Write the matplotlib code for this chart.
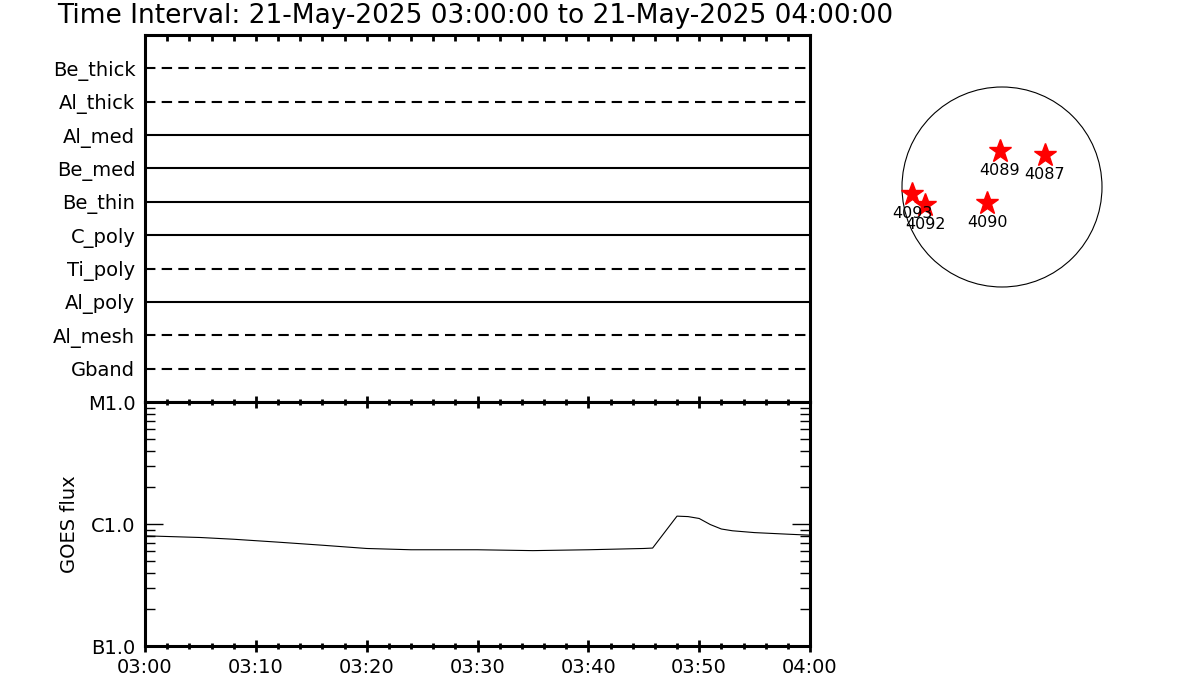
import matplotlib
matplotlib.use("Agg")
import matplotlib.pyplot as plt
from matplotlib.ticker import FixedLocator, LogLocator, NullFormatter
from matplotlib.patches import Circle

# channel rows in the top panel (top to bottom)
channels = ["Be_thick", "Al_thick", "Al_med", "Be_med", "Be_thin",
            "C_poly", "Ti_poly", "Al_poly", "Al_mesh", "Gband"]
dashed = ["Be_thick", "Al_thick", "Ti_poly", "Al_mesh", "Gband"]

# GOES flux, minutes after 03:00
goes_min = [0, 5, 8, 12, 16, 20, 24, 30, 35, 40, 45, 45.8, 48, 49, 50,
            51, 52, 53, 55, 58, 60]
goes_flux = [8.0e-7, 7.75e-7, 7.5e-7, 7.1e-7, 6.7e-7, 6.3e-7, 6.15e-7,
             6.15e-7, 6.05e-7, 6.15e-7, 6.3e-7, 6.35e-7, 1.16e-6, 1.15e-6,
             1.11e-6, 9.9e-7, 9.1e-7, 8.8e-7, 8.5e-7, 8.25e-7, 8.1e-7]
time_labels = ["03:00", "03:10", "03:20", "03:30", "03:40", "03:50", "04:00"]

# active regions (solar x, y in arcsec)
ar_num = ["4089", "4087", "4093", "4092", "4090"]
ar_x = [-19, 413, -864, -739, -144]
ar_y = [346, 307, -67, -173, -154]

plt.rcParams["font.family"] = "DejaVu Sans"
fig = plt.figure(figsize=(12, 7), dpi=100)
W, H = 1200, 700

def box(x0, y0, x1, y1):
    return [x0 / W, 1 - y1 / H, (x1 - x0) / W, (y1 - y0) / H]

fs = 14
ax1 = fig.add_axes(box(145, 35, 810, 402))
ax2 = fig.add_axes(box(145, 402, 810, 646))

n = len(channels)
for i, name in enumerate(channels):
    yv = n - i
    ls = (0, (5, 3)) if name in dashed else "-"
    ax1.plot([0, 60], [yv, yv], color="black", lw=1.5, linestyle=ls)
ax1.set_xlim(0, 60)
ax1.set_ylim(0, n + 1)
ax1.set_yticks(range(n, 0, -1))
ax1.set_yticklabels(channels, fontsize=fs)
ax1.tick_params(axis="y", length=0, pad=7)
ax1.xaxis.set_ticks_position("top")
ax1.set_xticks(range(0, 61, 10))
ax1.set_xticks(range(0, 61, 2), minor=True)
ax1.tick_params(axis="x", which="both", direction="in", labeltop=False,
                length=4, width=2)

ax2.plot(goes_min, goes_flux, color="black", lw=0.8)
ax2.set_yscale("log")
ax2.set_ylim(1e-7, 1e-5)
ax2.set_xlim(0, 60)
ax2.set_yticks([1e-7, 1e-6, 1e-5])
ax2.set_yticklabels(["B1.0", "C1.0", "M1.0"], fontsize=fs)
ax2.yaxis.set_minor_locator(LogLocator(base=10, subs=range(2, 10)))
ax2.yaxis.set_minor_formatter(NullFormatter())
ax2.tick_params(axis="y", which="major", direction="in", length=13,
                width=1, left=True, right=True, pad=7)
ax2.tick_params(axis="y", which="minor", direction="in", length=7,
                width=1, left=True, right=True)
ax2.set_xticks(range(0, 61, 10))
ax2.set_xticklabels(time_labels, fontsize=fs)
ax2.xaxis.set_minor_locator(FixedLocator(range(0, 61, 2)))
ax2.tick_params(axis="x", which="major", direction="inout", length=9,
                width=2, top=True, bottom=True, pad=4)
ax2.tick_params(axis="x", which="minor", direction="inout", length=5,
                width=2, top=True, bottom=True)
ax2.set_ylabel("GOES flux", fontsize=fs, labelpad=6)

for a in (ax1, ax2):
    for s in a.spines.values():
        s.set_linewidth(2.2)

fig.text(57 / W, 1 - 16 / H, "Time Interval: 21-May-2025 03:00:00 to 21-May-2025 04:00:00",
         fontsize=19, va="center", ha="left")

# solar disk with active regions
ax3 = fig.add_axes(box(892, 77, 1112, 297))
ax3.add_patch(Circle((0, 0), 960, fill=False, color="black", lw=0.8))
ax3.plot(ar_x, ar_y, linestyle="none", marker="*", markersize=17,
         color="red", markeredgecolor="red")
for num, x, y in zip(ar_num, ar_x, ar_y):
    ax3.annotate(num, (x, y), xytext=(0, -14), textcoords="offset points",
                 ha="center", va="center", fontsize=11.5)
ax3.set_xlim(-1056, 1056)
ax3.set_ylim(-1056, 1056)
ax3.set_aspect("equal")
ax3.axis("off")

fig.savefig("out.png", dpi=100)
